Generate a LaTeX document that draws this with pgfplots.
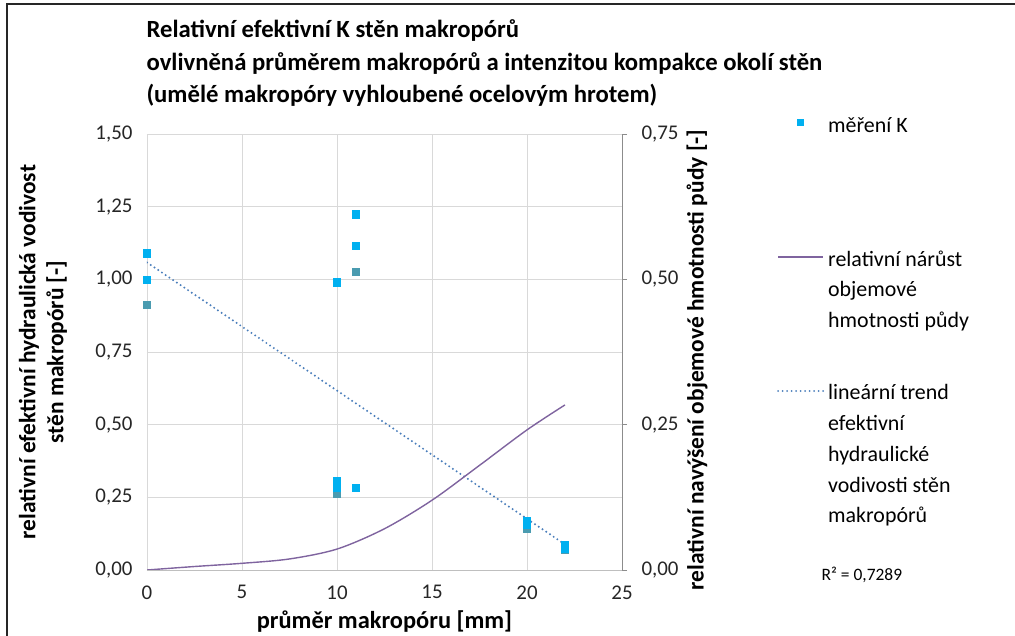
\documentclass[border=0pt]{standalone}
\usepackage{fontspec}
\setmainfont{Carlito}
\usepackage{pgfplots}
\pgfplotsset{compat=1.18}
\definecolor{mblue}{HTML}{00B0F0}
\definecolor{mteal}{HTML}{4A9BB0}
\definecolor{mpurple}{HTML}{7F649F}
\definecolor{mtrend}{HTML}{4A7EBB}
\definecolor{gridc}{HTML}{D9D9D9}
\definecolor{axc}{HTML}{BFBFBF}
\definecolor{raxc}{HTML}{8C8C8C}
\begin{document}
\begin{tikzpicture}
\begin{axis}[
  scale only axis, width=475bp, height=436bp,
  xmin=0, xmax=25, ymin=0, ymax=1.5,
  xtick={0,5,...,25}, ytick={0,0.25,0.5,0.75,1,1.25,1.5},
  grid=major, major grid style={gridc, line width=0.9bp},
  axis x line*=bottom, axis y line*=left,
  x axis line style={axc, line width=0.9bp, -},
  y axis line style={draw=none, -},
  major tick length=0pt,
  /pgf/number format/assume math mode=true,
  ticklabel style={font=\fontsize{21}{25}\selectfont, text=black!85},
  yticklabel style={/pgf/number format/.cd, fixed, fixed zerofill, precision=2, use comma, /tikz/.cd, xshift=-11bp},
  xticklabel style={yshift=-12bp},
  xlabel={průměr makropóru [mm]},
  xlabel style={font=\bfseries\fontsize{24.5}{28}\selectfont, at={(axis description cs:0.5,-0.119)}, anchor=center},
  ylabel={relativní efektivní hydraulická vodivost\\stěn makropórů [-]},
  ylabel style={font=\bfseries\fontsize{23.5}{28}\selectfont, align=center, at={(axis description cs:-0.219,0.5)}, anchor=center},
  title={Relativní efektivní K stěn makropórů\\ovlivněná průměrem makropórů a intenzitou kompakce okolí stěn\\(umělé makropóry vyhloubené ocelovým hrotem)},
  title style={font=\bfseries\fontsize{24.8}{32.5}\selectfont, align=left, at={(axis description cs:0,1)}, anchor=south west, yshift=18bp, xshift=-4bp},
]
% second series (teal)
\addplot[only marks, mark=square*, mark size=3.6bp, mark options={draw=mteal, fill=mteal}] coordinates {
 (0,0.913) (10,0.262) (11,1.026) (20,0.144) (22,0.069)
};
% measured K (blue)
\addplot[only marks, mark=square*, mark size=3.6bp, mark options={draw=mblue, fill=mblue}] coordinates {
 (0,1.090) (0,1.000) (10,0.990) (10,0.307) (10,0.285) (11,1.224) (11,1.116) (11,0.282)
 (20,0.169) (20,0.155) (22,0.085) (22,0.075)
};
% linear trend
\addplot[mtrend, line width=2.2bp, line cap=round, dash pattern=on 0bp off 4.5bp] coordinates {
 (0,1.058) (22,0.088)
};
\end{axis}
\begin{axis}[
  scale only axis, width=475bp, height=436bp,
  xmin=0, xmax=25, ymin=0, ymax=0.75,
  clip mode=individual,
  axis x line=none, axis y line*=right,
  y axis line style={raxc, line width=0.9bp, -},
  ytick={0,0.25,0.5,0.75},
  tick align=outside, major tick length=5bp,
  tick style={raxc, line width=0.9bp},
  /pgf/number format/assume math mode=true,
  ticklabel style={font=\fontsize{21}{25}\selectfont, text=black!85},
  yticklabel style={/pgf/number format/.cd, fixed, fixed zerofill, precision=2, use comma, /tikz/.cd, xshift=11bp},
  ylabel={relativní navýšení objemové hmotnosti půdy [-]},
  ylabel style={font=\bfseries\fontsize{23.5}{28}\selectfont, at={(axis description cs:1.158,0.482)}, anchor=center},
  legend style={at={(axis description cs:1.32,1.056)}, anchor=north west, draw=none, fill=none,
    font=\fontsize{22}{31}\selectfont, cells={anchor=base west}, row sep=109bp, column sep=2bp},
  legend cell align=left,
]
\addlegendimage{legend image code/.code={\path[draw=none,fill=none] (0bp,0bp) rectangle (45bp,14bp); \fill[mblue, draw=none] (19bp,0bp) rectangle (26bp,7bp);}}
\addlegendentry{\parbox[t]{175bp}{\raggedright měření K}}
\addlegendimage{legend image code/.code={\path[draw=none,fill=none] (0bp,0bp) rectangle (45bp,14bp); \draw[mpurple, line width=1.4bp] (0bp,2bp) -- (45bp,2bp);}}
\addlegendentry{\parbox[t]{175bp}{\raggedright relativní nárůst\\objemové\\hmotnosti půdy}}
\addlegendimage{legend image code/.code={\path[draw=none,fill=none] (0bp,0bp) rectangle (45bp,14bp); \draw[mtrend, line width=2bp, line cap=round, dash pattern=on 0bp off 4.5bp] (0bp,1.5bp) -- (45bp,1.5bp);}}
\addlegendentry{\parbox[t]{175bp}{\raggedright lineární trend\\efektivní\\hydraulické\\vodivosti stěn\\makropórů}}
\addplot[mpurple, line width=1.4bp, smooth, forget plot] coordinates {
 (0,0) (2.5,0.006) (5,0.0115) (7.5,0.019) (10,0.036) (12.5,0.071) (15,0.12) (17.5,0.18) (20,0.241) (22,0.284)
};
\node[font=\fontsize{17.5}{20}\selectfont, anchor=center] at (axis description cs:1.505,-0.011) {R² = 0,7289};
\end{axis}
\draw[line width=1.2bp, black!85] (-140bp,-66bp) -- (-140bp,566bp) -- (868bp,566bp);
\pgfresetboundingbox
\path[use as bounding box] (-147bp,-66bp) rectangle (868bp,570bp);
\end{tikzpicture}
\end{document}
